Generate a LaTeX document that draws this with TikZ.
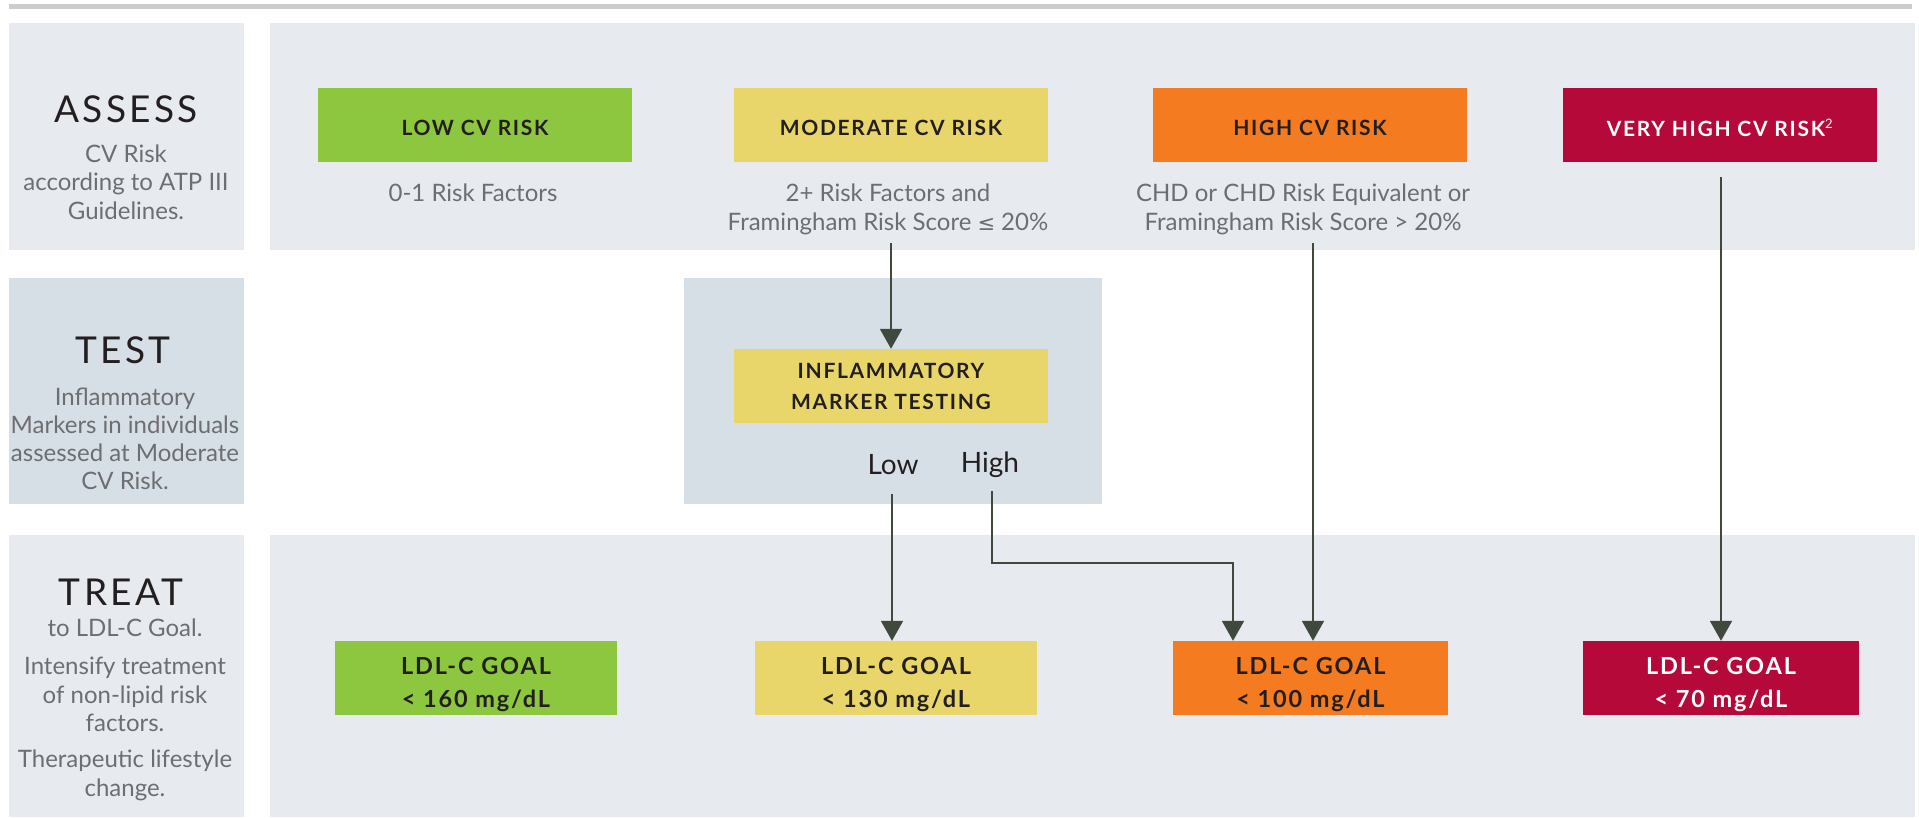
\documentclass[tikz,border=0pt]{standalone}
\usepackage{fontspec}
\setmainfont{Lato}
\newfontfamily\symfont{DejaVu Sans}
\newfontfamily\trackfont[LetterSpace=9]{Lato}
\newfontfamily\boxfont[LetterSpace=8]{Lato}
\usetikzlibrary{arrows.meta,calc}
\definecolor{panel}{HTML}{E7EAEF}
\definecolor{testbg}{HTML}{D7DFE6}
\definecolor{rulec}{HTML}{CCCCCC}
\definecolor{cgreen}{HTML}{8DC63F}
\definecolor{cyellow}{HTML}{E9D66B}
\definecolor{corange}{HTML}{F47B20}
\definecolor{cred}{HTML}{B5093A}
\definecolor{ink}{HTML}{231F20}
\definecolor{graytext}{HTML}{6D6E71}
\definecolor{arrowc}{HTML}{3F4A3C}
\newcommand\shiftdown[2]{\raisebox{-#1}[\height][\depth]{#2}}
\newcommand\twolines[2]{\begin{tabular}{@{}c@{}}#1\\#2\end{tabular}}
\begin{document}
\begin{tikzpicture}[x=1pt,y=-1pt,
  riskbox/.style={minimum width=314pt,minimum height=74pt,inner sep=0pt,
    font=\boxfont\bfseries\fontsize{21}{31}\selectfont,text=ink,align=center},
  goalbox/.style={minimum height=74pt,inner sep=0pt,
    font=\boxfont\bfseries\fontsize{23.5}{33}\selectfont,text=ink,align=center},
  titletext/.style={font=\trackfont\fontsize{37}{40}\selectfont,text=ink},
  sidetext/.style={font=\fontsize{24}{28.5}\selectfont,text=graytext,align=center},
  desctext/.style={font=\fontsize{24}{29}\selectfont,text=graytext,align=center},
  branch/.style={font=\fontsize{28}{30}\selectfont,text=ink},
  arr/.style={draw=arrowc,line width=2pt,-{Triangle[length=20pt,width=22pt]}}
]
\useasboundingbox (0,0) rectangle (1919,817);
% top rule
\fill[rulec] (9,4) rectangle (1912,9);
% panels
\fill[panel] (9,23) rectangle (244,250);
\fill[panel] (270,23) rectangle (1915,250);
\fill[testbg] (9,278) rectangle (244,504);
\fill[testbg] (684,278) rectangle (1102,504);
\fill[panel] (9,535) rectangle (244,817);
\fill[panel] (270,535) rectangle (1915,817);

% side labels
\node[titletext] (assessT) at (126,109) {ASSESS};
\node[sidetext] (assessD) at (126,182) {CV Risk\\according to ATP III\\Guidelines.};
\node[titletext] (testT) at (123,350) {TEST};
\node[sidetext,font=\fontsize{24}{28}\selectfont] (testD) at (125,438.5) {Inflammatory\\Markers in individuals\\assessed at Moderate\\CV Risk.};
\node[titletext] (treatT) at (121,592) {TREAT};
\node[sidetext] (treatD1) at (125,628) {to LDL-C Goal.};
\node[sidetext] (treatD2) at (125,694.5) {Intensify treatment\\of non-lipid risk\\factors.};
\node[sidetext] (treatD3) at (125,775.5) {Therapeutic lifestyle\\change.};

% risk boxes
\node[riskbox,fill=cgreen] (low) at (475,125) {\shiftdown{3pt}{LOW CV RISK}};
\node[riskbox,fill=cyellow] (mod) at (891,125) {\shiftdown{3pt}{MODERATE CV RISK}};
\node[riskbox,fill=corange] (high) at (1310,125) {\shiftdown{3pt}{HIGH CV RISK}};
\node[riskbox,fill=cred,text=white] (vhigh) at (1720,125) {\shiftdown{3pt}{VERY HIGH CV RISK\textsuperscript{\mdseries\fontsize{13}{13}\selectfont 2}}};

% descriptions
\node[desctext] (lowD) at (473,193) {0-1 Risk Factors};
\node[desctext] (modD) at (888,209.5) {2+ Risk Factors and\\Framingham Risk Score {\symfont\fontsize{21}{29}\selectfont ≤} 20\%};
\node[desctext] (highD) at (1303,209.5) {CHD or CHD Risk Equivalent or\\Framingham Risk Score > 20\%};

% test
\node[riskbox,fill=cyellow] (infl) at (891,386) {\shiftdown{2pt}{\twolines{INFLAMMATORY}{MARKER TESTING}}};
\node[branch] (lowL) at (893,465) {Low};
\node[branch] (highL) at (990,465) {High};

% goal boxes
\node[goalbox,minimum width=282pt,fill=cgreen] (g1) at (476,678) {\shiftdown{6pt}{\twolines{LDL-C GOAL}{< 160 mg/dL}}};
\node[goalbox,minimum width=282pt,fill=cyellow] (g2) at (896,678) {\shiftdown{6pt}{\twolines{LDL-C GOAL}{< 130 mg/dL}}};
\node[goalbox,minimum width=275pt,fill=corange] (g3) at (1310.5,678) {\shiftdown{6pt}{\twolines{LDL-C GOAL}{< 100 mg/dL}}};
\node[goalbox,minimum width=276pt,fill=cred,text=white] (g4) at (1721,678) {\shiftdown{6pt}{\twolines{LDL-C GOAL}{< 70 mg/dL}}};

% connectors
\coordinate (m0) at (891,243);
\coordinate (h0) at (1313,243);
\coordinate (v0) at (1721,177);
\coordinate (l0) at (892,494);
\coordinate (hh0) at (992,491);
\coordinate (hbend) at ($(g3.north)+(-77.5,-78)$);
\draw[arr] (m0) -- (infl.north);
\draw[arr] (h0) -- (h0 |- g3.north);
\draw[arr] (v0) -- (g4.north);
\draw[arr] (l0) -- (l0 |- g2.north);
\draw[arr] (hh0) |- (hbend) -- (hbend |- g3.north);
\end{tikzpicture}
\end{document}
